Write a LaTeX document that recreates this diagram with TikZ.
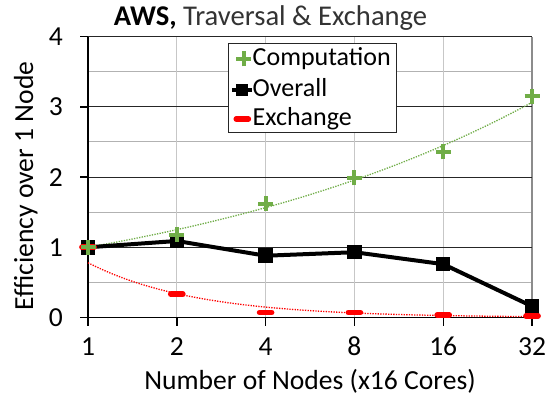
\documentclass[tikz,border=0pt]{standalone}
\usepackage{fontspec}
\setmainfont{Carlito}
\definecolor{compgreen}{RGB}{112,173,71}
\definecolor{exred}{RGB}{255,0,0}
\tikzset{
  majorgrid/.style={draw=black!85, line width=1pt},
  minorgrid/.style={draw=black!30, line width=1pt},
  vgrid/.style={draw=black!22, line width=1.2pt},
  plotborder/.style={draw=black!45, line width=1.2pt},
  axisline/.style={draw=black, line width=1.4pt},
  ticklabel/.style={font=\fontsize{27.5}{30}\selectfont, inner sep=0pt},
  axistitle/.style={font=\fontsize{27.6}{30}\selectfont, inner sep=0pt},
  legendtext/.style={font=\fontsize{26}{30}\selectfont, inner sep=0pt, anchor=base west},
  overallline/.style={draw=black, line width=4pt, line join=round},
  comptrend/.style={draw=compgreen, line width=1.3pt, dash pattern=on 1.3pt off 1.3pt},
  extrend/.style={draw=exred, line width=1.3pt, dash pattern=on 1.3pt off 1.3pt},
  sqmark/.style={fill=black, minimum size=14.5pt, inner sep=0pt, draw=none},
  plusmark/.pic={\draw[compgreen, line width=4pt] (-7.5pt,0pt) -- (7.5pt,0pt) (0pt,-7.5pt) -- (0pt,7.5pt);},
  dashmark/.pic={\draw[exred, line width=5.7pt, line cap=round] (-6pt,0pt) -- (6pt,0pt);},
}
\begin{document}
\begin{tikzpicture}[x=1pt,y=1pt]
\useasboundingbox (0,0) rectangle (545,396);
\fill[white] (0,0) rectangle (545,396);

% plot area: x in log2 steps, y efficiency
\begin{scope}[shift={(88,78.5)}, x=88.8pt, y=70.2pt]
  % gridlines
  \foreach \v in {0.5,1.5,2.5,3.5} \draw[minorgrid] (0,\v) -- (5,\v);
  \foreach \t in {1,...,4} \draw[vgrid] (\t,0) -- (\t,4);
  \draw[plotborder] (5,0) -- (5,4);
  \foreach \v in {1,2,3,4} \draw[majorgrid] (0,\v) -- (5,\v);

  % axes with outward ticks
  \draw[axisline] (0,0) -- (0,4);
  \draw[axisline] (-8pt,0) -- (5,0);
  \foreach \v in {1,2,3,4} \draw[axisline] (0,\v) -- ++(-8pt,0pt);
  \foreach \t in {0,...,5} \draw[axisline] (\t,0) -- ++(0pt,-8pt);

  % tick labels
  \foreach \v in {0,...,4}
    \node[ticklabel, anchor=east] (yl\v) at ([xshift=-25pt]0,\v) {\v};
  \foreach \t/\lab in {0/1,1/2,2/4,3/8,4/16,5/32}
    \node[ticklabel, anchor=base] (xl\t) at ([yshift=-38pt]\t,0) {\lab};

  % trendlines
  \draw[comptrend] plot[domain=0:5, samples=60, smooth] (\x, {exp(0.224*\x)});
  \draw[extrend] plot[domain=0:5, samples=60, smooth] (\x, {0.78*exp(-0.83*\x)});

  % overall series
  \draw[overallline] (0,1.0) -- (1,1.09) -- (2,0.88) -- (3,0.93) -- (4,0.76) -- (5,0.16);
  \foreach \t/\v in {0/1.0,1/1.09,2/0.88,3/0.93,4/0.76,5/0.16}
    \node[sqmark] (ov\t) at (\t,\v) {};

  % exchange series
  \foreach \t/\v in {0/1.0,1/0.33,2/0.07,3/0.07,4/0.035,5/0.02}
    \pic at (\t,\v) {dashmark};

  % computation series
  \foreach \t/\v in {0/1.0,1/1.18,2/1.62,3/1.99,4/2.36,5/3.15}
    \pic at (\t,\v) {plusmark};
\end{scope}

% title
\node[anchor=base, inner sep=0pt, font=\fontsize{28.6}{32}\selectfont] (title) at (270.5,370)
  {\textbf{AWS,} \textcolor{black!80}{Traversal \& Exchange}};

% axis titles
\node[axistitle, anchor=base] (xtitle) at (310,6.5) {Number of Nodes (x16 Cores)};
\node[axistitle, anchor=base, rotate=90] (ytitle) at (33,210) {Efficiency over 1 Node};

% legend
\node[draw=black!85, line width=1pt, fill=white, minimum width=168.2pt, minimum height=89pt,
      inner sep=0pt, anchor=north west] (legend) at (227.5,352.5) {};
\pic at (243.5,337) {plusmark};
\node[legendtext] (lcomp) at (252.5,330) {Computation};
\draw[black, line width=4pt] (232,306) -- (252,306);
\node[fill=black, minimum size=12.7pt, inner sep=0pt] (lsq) at (242,306) {};
\node[legendtext] (lover) at (252.5,299.3) {Overall};
\pic at (242.3,277) {dashmark};
\node[legendtext] (lex) at (252.5,270) {Exchange};
\end{tikzpicture}
\end{document}
